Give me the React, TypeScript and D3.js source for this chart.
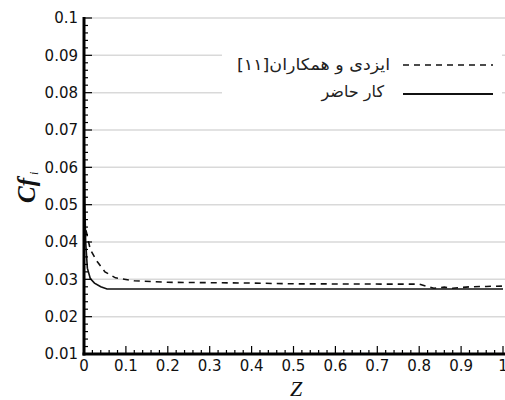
import * as d3 from "d3";

// Yazdi et al. [11] (dashed) and present work (solid): Cf_i along Z
const yazdiZ = [0, 0.005, 0.015, 0.03, 0.05, 0.075, 0.12, 0.2, 0.4, 0.5, 0.8, 0.835, 0.86, 0.88, 0.92, 0.96, 1];
const yazdiCf = [0.046, 0.043, 0.038, 0.035, 0.032, 0.0304, 0.0296, 0.0292, 0.029, 0.0288, 0.0287, 0.0276, 0.0279, 0.0276, 0.028, 0.0281, 0.0282];
const presentZ = [0, 0.002, 0.004, 0.008, 0.015, 0.025, 0.04, 0.055, 1];
const presentCf = [0.068, 0.05, 0.04, 0.033, 0.0302, 0.029, 0.028, 0.0274, 0.0274];

const xTicks = [0, 0.1, 0.2, 0.3, 0.4, 0.5, 0.6, 0.7, 0.8, 0.9, 1];
const yTicks = [0.01, 0.02, 0.03, 0.04, 0.05, 0.06, 0.07, 0.08, 0.09, 0.1];
const legendLabels = ["ایزدی و همکاران[۱۱]", "کار حاضر"];

const W = 505;
const H = 400;
const fmt = (v: number) => (v === 0 ? "0" : v === 1 ? "1" : String(+v.toFixed(2)));

export default function App() {
  const x = d3.scaleLinear().domain([0, 1]).range([84, 503]);
  const y = d3.scaleLinear().domain([0.01, 0.1]).range([354, 18]);
  const line = d3
    .line<[number, number]>()
    .x((d) => x(d[0]))
    .y((d) => y(d[1]));

  const yazdi = yazdiZ.map((z, i) => [z, yazdiCf[i]] as [number, number]);
  const present = presentZ.map((z, i) => [z, presentCf[i]] as [number, number]);

  const xMinor = d3.range(0, 1.0001, 0.02);
  const yMinor = d3.range(0.01, 0.10001, 0.002);

  return (
    <svg width={W} height={H} style={{ position: "absolute", left: 0, top: 0, background: "#fff" }}>
      {yTicks.map((t) => (
        <line key={t} x1={x(0)} x2={W} y1={y(t)} y2={y(t)} stroke="#d9d9d9" strokeWidth={1.5} />
      ))}
      {/* legend background */}
      <rect x={222} y={38} width={280} height={70} fill="#fff" />
      <path d={line(yazdi)!} fill="none" stroke="#111" strokeWidth={1.6} strokeDasharray="6,5" />
      <path d={line(present)!} fill="none" stroke="#111" strokeWidth={1.6} />

      {/* axes */}
      <line x1={x(0)} x2={x(0)} y1={y(0.1) - 1} y2={y(0.01) + 1.5} stroke="#000" strokeWidth={3} />
      <line x1={x(0) - 1.5} x2={W} y1={y(0.01)} y2={y(0.01)} stroke="#000" strokeWidth={3} />
      {yMinor.map((t, i) => (
        <line key={"ym" + i} x1={x(0)} x2={x(0) + (i % 5 === 0 ? 8 : 4)} y1={y(t)} y2={y(t)} stroke="#000" strokeWidth={1.2} />
      ))}
      {xMinor.map((t, i) => (
        <line key={"xm" + i} x1={x(t)} x2={x(t)} y1={y(0.01)} y2={y(0.01) - (i % 5 === 0 ? 8 : 4)} stroke="#000" strokeWidth={1.2} />
      ))}
      {yTicks.map((t) => (
        <text key={"yl" + t} x={x(0) - 6} y={y(t)} dy="0.36em" textAnchor="end" fontFamily="DejaVu Sans" fontSize={15} fill="#111">
          {fmt(t)}
        </text>
      ))}
      {xTicks.map((t) => (
        <text key={"xl" + t} x={x(t)} y={371} textAnchor="middle" fontFamily="DejaVu Sans" fontSize={15} fill="#111">
          {fmt(t)}
        </text>
      ))}

      {/* titles */}
      <text x={296} y={396} textAnchor="middle" fontFamily="Liberation Serif" fontStyle="italic" fontSize={22} fill="#111">
        Z
      </text>
      <text transform="translate(35,203) rotate(-90)" fontFamily="Liberation Serif" fontStyle="italic" fontWeight="bold" fontSize={25} fill="#111">
        Cf<tspan fontSize={12} dx={3} dy={3} fontWeight="normal">i</tspan>
      </text>

      {/* legend */}
      <line x1={403} x2={493} y1={65} y2={65} stroke="#111" strokeWidth={1.6} strokeDasharray="6,5" />
      <line x1={403} x2={493} y1={94} y2={94} stroke="#111" strokeWidth={2} />
      <text x={390} y={64} dy="0.35em" textAnchor="end" direction="ltr" textLength={153} lengthAdjust="spacingAndGlyphs" fontFamily="DejaVu Sans" fontSize={16} fill="#222">
        {legendLabels[0]}
      </text>
      <text x={384} y={91} dy="0.35em" textAnchor="end" direction="ltr" fontFamily="DejaVu Sans" fontSize={16} fill="#222">
        {legendLabels[1]}
      </text>
    </svg>
  );
}
